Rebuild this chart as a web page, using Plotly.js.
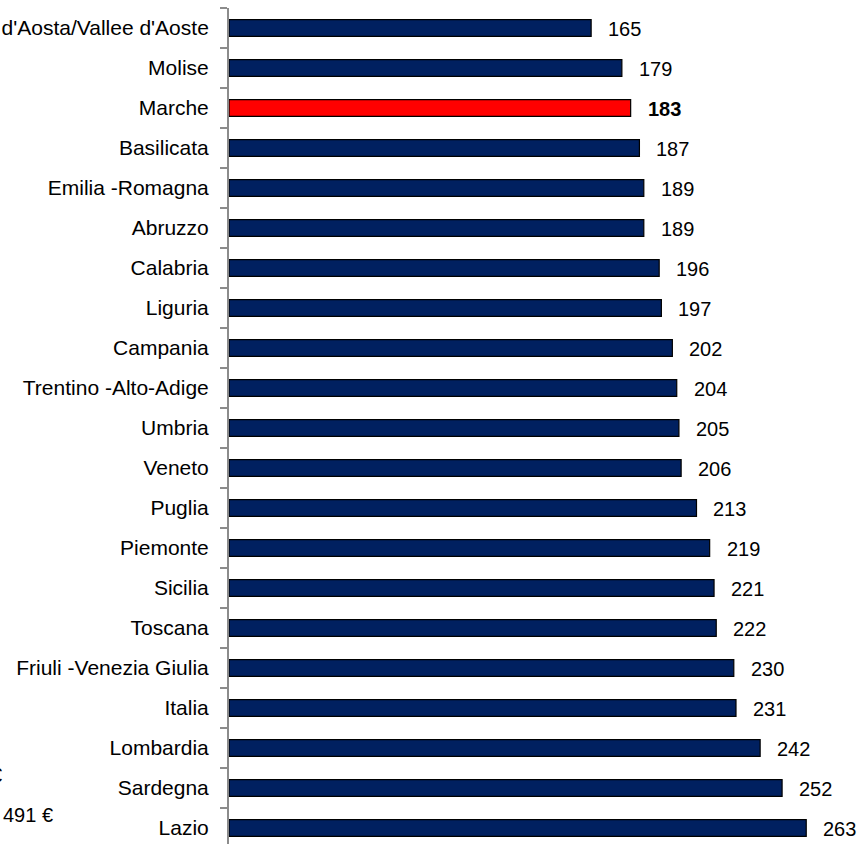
<!DOCTYPE html>
<html>
<head>
<meta charset="utf-8">
<script src="https://cdn.plot.ly/plotly-3.0.1.min.js"></script>
<style>html,body{margin:0;padding:0;background:#fff;}#chart{width:860px;height:844px;}</style>
</head>
<body>
<div id="chart"></div>
<script>
const regions = ["Valle d'Aosta/Vallee d'Aoste","Molise","Marche","Basilicata","Emilia -Romagna","Abruzzo","Calabria","Liguria","Campania","Trentino -Alto-Adige","Umbria","Veneto","Puglia","Piemonte","Sicilia","Toscana","Friuli -Venezia Giulia","Italia","Lombardia","Sardegna","Lazio"];
const values = [165,179,183,187,189,189,196,197,202,204,205,206,213,219,221,222,230,231,242,252,263];
const highlight = "Marche";
const sideNotes = ["€","491 €"];

const navy = '#002060';
const red = '#FF0000';
const W = 860, H = 844, ML = 229, MT = 8;
const plotW = W - ML, plotH = H - MT;
const pxX = px => (px - ML) / plotW;
const pxY = py => 1 - (py - MT) / plotH;
const FONT = 'Liberation Sans, Arial, sans-serif';

const colors = regions.map(r => r === highlight ? red : navy);

const labelAnns = regions.map((r, i) => ({
  x: values[i], y: r, xref: 'x', yref: 'y',
  text: r === highlight ? '<b>' + values[i] + '</b>' : String(values[i]),
  showarrow: false, xanchor: 'left', yanchor: 'middle', xshift: 15, yshift: -1,
  font: {family: FONT, size: 20, color: '#000'}
}));

const noteAnns = [
  {x: pxX(4), y: pxY(775), xref: 'paper', yref: 'paper', text: sideNotes[0], showarrow: false,
   xanchor: 'right', yanchor: 'middle', font: {family: FONT, size: 20, color: '#000'}},
  {x: pxX(1), y: pxY(815), xref: 'paper', yref: 'paper', text: sideNotes[1], showarrow: false,
   xanchor: 'left', yanchor: 'middle', font: {family: FONT, size: 20, color: '#000'}}
];

const trace = {
  type: 'bar', orientation: 'h', x: values, y: regions,
  marker: {color: colors, line: {color: '#000', width: 1.2}},
  hoverinfo: 'skip'
};

const layout = {
  width: W, height: H,
  margin: {l: ML, r: 0, t: MT, b: 0, pad: 0},
  paper_bgcolor: '#fff', plot_bgcolor: '#fff',
  bargap: 0.58,
  showlegend: false,
  font: {family: FONT, size: 20, color: '#000'},
  xaxis: {range: [0, 287.5], visible: false, showgrid: false, zeroline: false, fixedrange: true},
  yaxis: {
    type: 'category', categoryorder: 'array', categoryarray: regions,
    range: [20.4, -0.5],
    showline: true, linecolor: '#8c8c8c', linewidth: 2,
    ticks: 'outside', tickson: 'boundaries', ticklen: 7, tickwidth: 2, tickcolor: '#8c8c8c',
    ticklabelstandoff: 14,
    showgrid: false, zeroline: false, fixedrange: true,
    tickfont: {family: FONT, size: 21, color: '#000'}
  },
  annotations: labelAnns.concat(noteAnns)
};

Plotly.newPlot('chart', [trace], layout, {displayModeBar: false, staticPlot: true});
</script>
</body>
</html>
